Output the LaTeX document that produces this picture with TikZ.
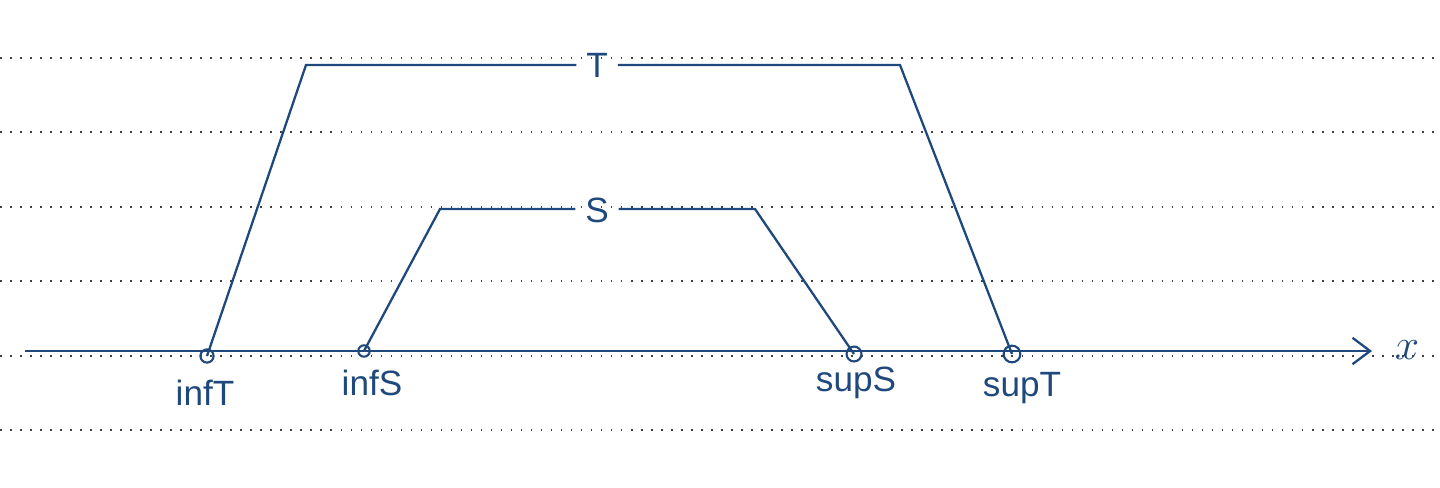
\documentclass[tikz,border=0pt]{standalone}
\usepackage{fontspec}
\setmainfont{Liberation Sans}
\usetikzlibrary{positioning,arrows.meta}
\definecolor{ink}{RGB}{31,73,125}

\begin{document}
\begin{tikzpicture}[
  x=0.02cm, y=-0.02cm,
  font=\fontsize{20}{24}\selectfont,
  pen/.style={draw=ink, line width=1.3pt},
  rule/.style={draw=black!75, line width=0.9pt, dash pattern=on 0.9pt off 4.8pt},
  dot/.style={circle, draw=ink, line width=1.2pt, inner sep=0pt, minimum size=7.5pt},
  lbl/.style={text=ink, inner sep=0pt},
  gaplbl/.style={lbl, inner xsep=5.5pt}
]
\useasboundingbox (0,0) rectangle (1440,487);
\foreach \y in {58,132,207,281,356,430}
  \draw[rule] (0,\y) -- (1440,\y);

% axis
\coordinate (xs) at (25,351);
\coordinate (xe) at (1372,351);
\draw[pen, -{Straight Barb[length=10pt, width=15pt, line width=1.3pt]}] (xs) -- (xe);
\node[lbl, font=\fontsize{30}{34}\selectfont] (xl) at (1407,350) {$x$};

% end points on the axis
\node[dot] (it) at (207,356) {};
\node[dot, minimum size=6.5pt] (is) at (364,351) {};
\node[dot, minimum size=8.5pt] (ss) at (854,354) {};
\node[dot, minimum size=9.5pt] (st) at (1012,354) {};

\node[lbl] (itl) at (205,393) {infT};
\node[lbl] (isl) at (372,383) {infS};
\node[lbl] (ssl) at (856,383) {supS};
\node[lbl] (stl) at (1022,388) {supT};

% T
\coordinate (tl) at (306,65);
\coordinate (tr) at (900,65);
\node[gaplbl] (tlab) at (597,65) {T};
\draw[pen] (it.center) -- (tl) -- (tlab.west |- tl);
\draw[pen] (tlab.east |- tr) -- (tr) -- (st.center);

% S
\coordinate (sl) at (440,209);
\coordinate (sr) at (755,209);
\node[gaplbl] (slab) at (597,210) {S};
\draw[pen] (is.center) -- (sl) -- (slab.west |- sl);
\draw[pen] (slab.east |- sr) -- (sr) -- (ss.center);
\end{tikzpicture}
\end{document}
